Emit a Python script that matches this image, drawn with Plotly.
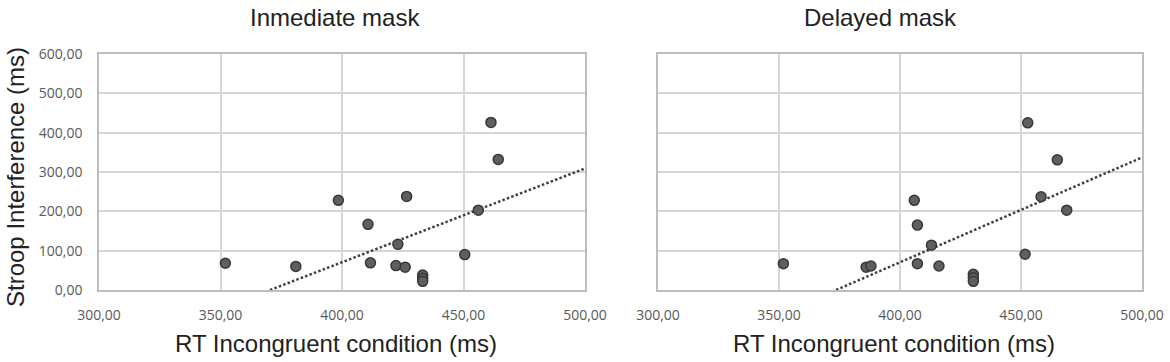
import plotly.graph_objects as go

# ---- data ----
panel_titles = ["Inmediate mask", "Delayed mask"]
x_title = "RT Incongruent condition (ms)"
y_title = "Stroop Interference (ms)"

immediate_rt = [352.0, 381.0, 398.5, 410.7, 411.7, 426.6, 423.0, 422.2, 426.0,
                433.2, 433.2, 433.2, 450.5, 456.1, 461.3, 464.3]
immediate_stroop = [68, 60, 228, 167, 69, 238, 116, 62, 58,
                    38, 30, 22, 90, 203, 426, 332]

delayed_rt = [351.8, 386.0, 388.0, 405.9, 407.2, 407.2, 413.0, 416.1,
              430.3, 430.3, 430.3, 451.7, 452.8, 458.3, 465.0, 468.9]
delayed_stroop = [67, 58, 61, 228, 165, 67, 114, 61,
                  40, 31, 22, 91, 425, 237, 331, 203]

# linear trend lines (slope, intercept)
immediate_trend = (2.384, -883.0)
delayed_trend = (2.666, -996.0)

x_range = [300, 500]
y_range = [0, 600]
x_ticks = [300, 350, 400, 450, 500]
y_ticks = [0, 100, 200, 300, 400, 500, 600]

W, H = 1170, 362

fig = go.Figure()

marker = dict(size=10, color="#5f5f5f", line=dict(color="#383838", width=1.5))


def trend_xy(coef):
    s, b = coef
    x0 = max(x_range[0], -b / s)
    x1 = x_range[1]
    return [x0, x1], [s * x0 + b, s * x1 + b]


for i, (xs, ys, tr) in enumerate([(immediate_rt, immediate_stroop, immediate_trend),
                                  (delayed_rt, delayed_stroop, delayed_trend)]):
    xa = "x" if i == 0 else "x2"
    ya = "y" if i == 0 else "y2"
    tx, ty = trend_xy(tr)
    fig.add_trace(go.Scatter(x=tx, y=ty, mode="lines", xaxis=xa, yaxis=ya,
                             line=dict(color="#404040", width=2.5, dash="2.5px,2.2px"),
                             showlegend=False, hoverinfo="skip", cliponaxis=False))
    fig.add_trace(go.Scatter(x=xs, y=ys, mode="markers", xaxis=xa, yaxis=ya,
                             marker=marker, showlegend=False, cliponaxis=False))

grid = "#d6d6d6"
border = "#bdbdbd"
tickfont = dict(family="Open Sans", size=14, color="#595959")

common_x = dict(range=x_range, tickvals=x_ticks, tickformat=".2f", showgrid=True,
                gridcolor=grid, gridwidth=1.5, showline=True, mirror=True,
                linecolor=border, linewidth=1.5, zeroline=False, ticks="outside",
                ticklen=11, tickcolor="rgba(0,0,0,0)", tickfont=tickfont,
                automargin=False)
common_y = dict(range=y_range, tickvals=y_ticks, tickformat=".2f", showgrid=True,
                gridcolor=grid, gridwidth=1.5, showline=True, mirror=True,
                linecolor=border, linewidth=1.5, zeroline=False, ticks="outside",
                ticklen=12, tickcolor="rgba(0,0,0,0)", tickfont=tickfont,
                automargin=False)

ytop, ybot = 54, 290
ydom = [1 - ybot / H, 1 - ytop / H]
x1dom = [99 / W, 585 / W]
x2dom = [658 / W, 1142 / W]

fig.update_layout(
    width=W, height=H, margin=dict(l=0, r=0, t=0, b=0, autoexpand=False),
    paper_bgcolor="white", plot_bgcolor="white", separators=",.",
    xaxis=dict(domain=x1dom, anchor="y", **common_x),
    yaxis=dict(domain=ydom, anchor="x", **common_y),
    xaxis2=dict(domain=x2dom, anchor="y2", **common_x),
    yaxis2=dict(domain=ydom, anchor="x2", showticklabels=False,
                **{k: v for k, v in common_y.items() if k not in ("tickfont",)}),
)

tfont = dict(family="Liberation Sans, Arial", size=24, color="#222222")
afont = dict(family="Liberation Sans, Arial", size=24, color="#222222")

title_centers = [334.5, 880]
xtitle_centers = [336, 894]
for c, t in zip(title_centers, panel_titles):
    fig.add_annotation(text=t, x=c / W, y=1 - 17 / H, xref="paper", yref="paper",
                       showarrow=False, font=tfont, xanchor="center", yanchor="middle")
for c in xtitle_centers:
    fig.add_annotation(text=x_title, x=c / W, y=1 - 343 / H, xref="paper", yref="paper",
                       showarrow=False, font=afont, xanchor="center", yanchor="middle")

fig.add_annotation(text=y_title, x=15 / W, y=1 - 177 / H, xref="paper", yref="paper",
                   showarrow=False, font=afont, textangle=-90,
                   xanchor="center", yanchor="middle")

fig.write_html("out.html", config={"displayModeBar": False},
               post_script="document.body.style.margin='0px';document.body.style.overflow='hidden';")
